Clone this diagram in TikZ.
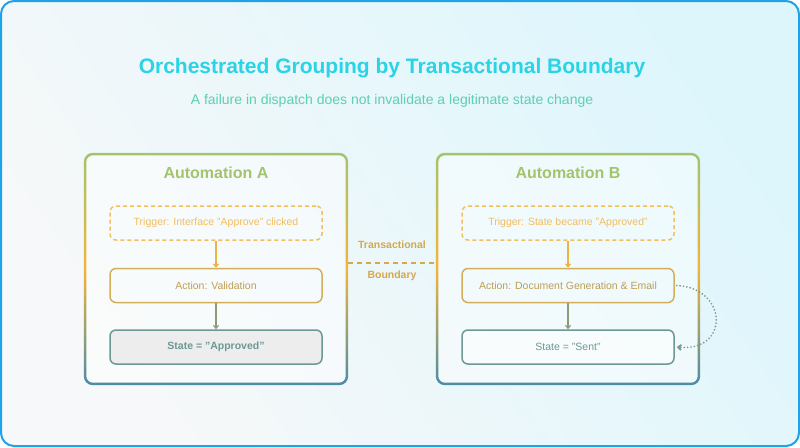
\documentclass[tikz,border=0pt]{standalone}
\usepackage{fontspec}
\setmainfont{Liberation Sans}
\usetikzlibrary{positioning}
\usetikzlibrary{arrows.meta}

\definecolor{frameblue}{HTML}{1FA2E6}
\definecolor{bgleft}{HTML}{F7F8F9}
\definecolor{bgright}{HTML}{DDF6FC}
\definecolor{titlecyan}{HTML}{2AD3E6}
\definecolor{subteal}{HTML}{5CCFB4}
\definecolor{grpgreen}{HTML}{A3C46C}
\definecolor{grporange}{HTML}{F1B53E}
\definecolor{grpblue}{HTML}{4B8CA6}
\definecolor{trigorange}{HTML}{F3BE5E}
\definecolor{acttan}{HTML}{D3AF5C}
\definecolor{statemint}{HTML}{6C9895}
\definecolor{arrowolive}{HTML}{8C9C78}
\definecolor{bndgold}{HTML}{D6A84A}
\definecolor{loopgray}{HTML}{7C9A8C}

\tikzset{
  stepbox/.style={draw, rounded corners=6pt, line width=1.5pt, minimum width=212pt,
    minimum height=34pt, font=\fontsize{10.5}{12}\selectfont},
  trigbox/.style={stepbox, draw=trigorange, text=trigorange, dash pattern=on 4pt off 3pt},
  actbox/.style={stepbox, draw=acttan, text=acttan!90!black},
  statebox/.style={stepbox, draw=statemint, text=statemint},
  grpbox/.style={minimum width=264pt, minimum height=232pt, inner sep=0pt},
  grptitle/.style={text=grpgreen, font=\fontsize{16}{18}\selectfont\bfseries},
  flow/.style={-{Straight Barb[length=3pt,width=5pt]}, line width=1.2pt},
}

\begin{document}
\begin{tikzpicture}[x=1pt, y=-1pt]
    \useasboundingbox (0,0) rectangle (800,447);
    % background and frame
    \shade[rounded corners=13pt, left color=bgleft, right color=bgright, shading angle=125]
        (1,1) rectangle (799,446);
    \draw[frameblue, line width=2pt, rounded corners=13pt] (1,1) rectangle (799,446);

    \node[text=titlecyan, font=\fontsize{21}{24}\selectfont\bfseries] (title) at (392,68)
        {Orchestrated Grouping by Transactional Boundary};
    \node[text=subteal, font=\fontsize{14}{16}\selectfont] (subtitle) at (392,101)
        {A failure in dispatch does not invalidate a legitimate state change};

    % the two groups
    \node[grpbox] (grpA) at (216,269) {};
    \node[grpbox] (grpB) at (568,269) {};
    \foreach \g in {grpA, grpB} {
        \fill[white, opacity=0.45, rounded corners=8pt] (\g.south west) rectangle (\g.north east);
        \shade[top color=grpgreen, bottom color=grpblue, middle color=grporange, even odd rule,
            rounded corners=9pt]
            (\g.south west) rectangle (\g.north east)
            [rounded corners=6.5pt]
            ([shift={(2.5pt,2.5pt)}]\g.south west) rectangle ([shift={(-2.5pt,-2.5pt)}]\g.north east);
    }
    \node[grptitle] (titA) at (216,173) {Automation A};
    \node[grptitle] (titB) at (568,173) {Automation B};

    % automation A
    \node[trigbox] (trigA) at (216,223) {Trigger: Interface "Approve" clicked};
    \node[actbox, below=27pt of trigA] (actA) {Action: Validation};
    \node[statebox, fill=black!7, font=\fontsize{10.5}{12}\selectfont\bfseries,
        below=26pt of actA] (stateA) {State = "Approved"};
    \draw[flow, grporange!80!acttan] (trigA) -- (actA);
    \draw[flow, arrowolive] (actA) -- (stateA);

    % automation B
    \node[trigbox] (trigB) at (568,223) {Trigger: State became "Approved"};
    \node[actbox, below=27pt of trigB] (actB) {Action: Document Generation \& Email};
    \node[statebox, fill=white, fill opacity=0.5, text opacity=1, below=26pt of actB] (stateB) {State = "Sent"};
    \draw[flow, grporange!80!acttan] (trigB) -- (actB);
    \draw[flow, arrowolive] (actB) -- (stateB);

    % retry loop
    \draw[loopgray, line width=1.9pt, line cap=round, dash pattern=on 0pt off 3.4pt,
        -{Straight Barb[length=3pt,width=5pt]}]
        ([xshift=2pt]actB.east) .. controls (728,288) and (730,352) .. ([xshift=2pt]stateB.east);

    % boundary
    \draw[bndgold, line width=1.5pt, dash pattern=on 5pt off 4pt]
        ([yshift=6pt]grpA.east) -- ([yshift=6pt]grpB.west)
        node[midway, yshift=18pt, font=\fontsize{10.5}{12}\selectfont\bfseries] (bndtop) {Transactional}
        node[midway, yshift=-13pt, font=\fontsize{10.5}{12}\selectfont\bfseries] (bndbot) {Boundary};
\end{tikzpicture}
\end{document}
